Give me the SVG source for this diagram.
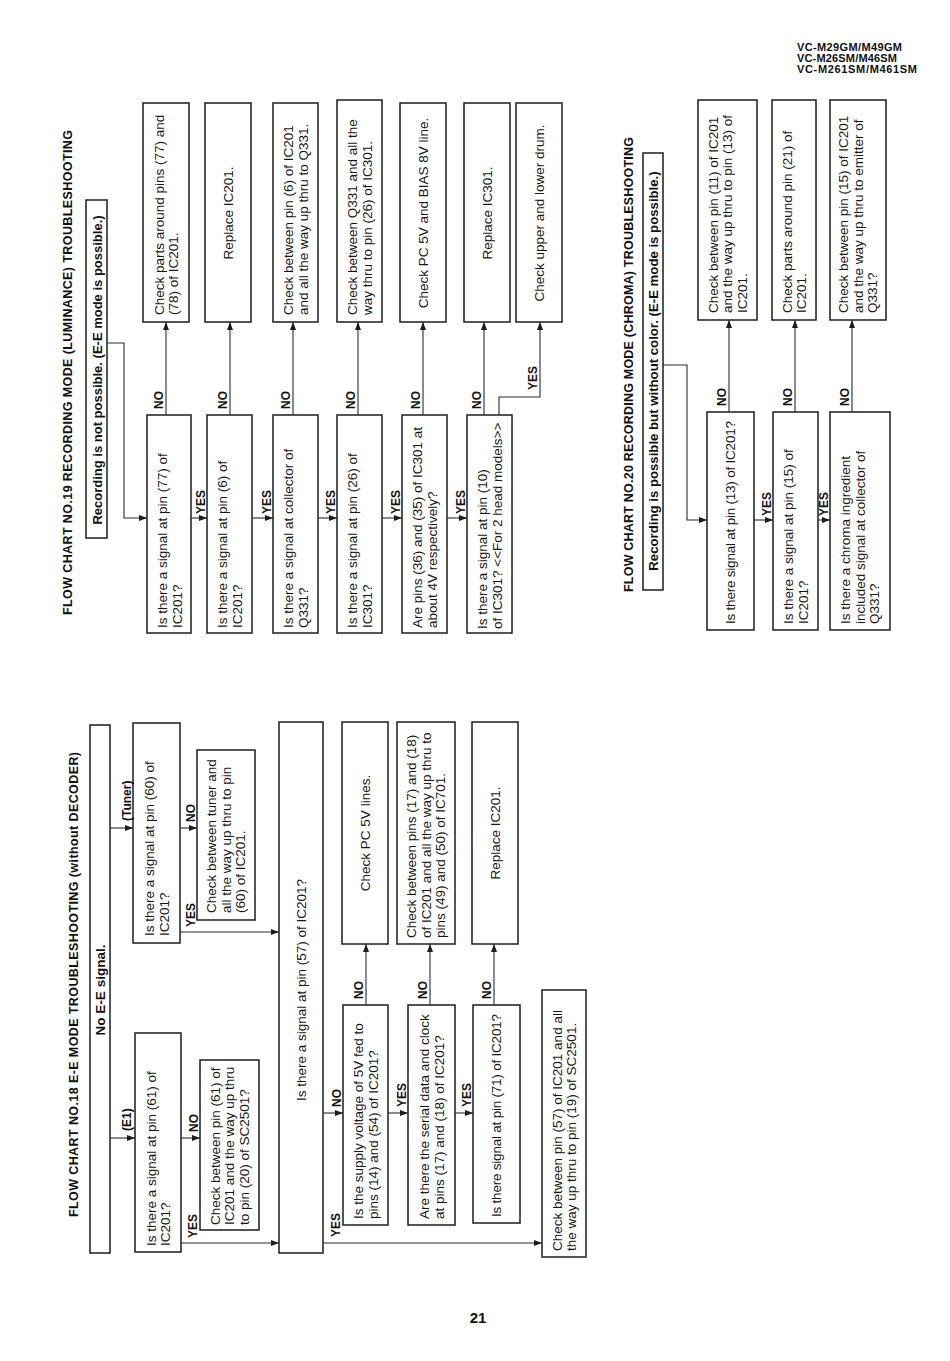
<svg xmlns="http://www.w3.org/2000/svg" width="950" height="1361" viewBox="0 0 950 1361">
<defs>
<style>
.b{fill:#fff;stroke:#1c1c1c;stroke-width:1.5}
.c{fill:none;stroke:#2a2a2a;stroke-width:1.1}
.t{font-family:"Liberation Sans",Arial,sans-serif;font-size:13.5px;fill:#161616}
.h{font-family:"Liberation Sans",Arial,sans-serif;font-weight:bold;fill:#111}
.l{font-family:"Liberation Sans",Arial,sans-serif;font-weight:bold;font-size:12px;fill:#111}
.m{text-anchor:middle}
</style>
<marker id="a" viewBox="0 0 8 6" refX="8" refY="3" markerWidth="8" markerHeight="6" markerUnits="userSpaceOnUse" orient="auto">
<path d="M0,0 L8,3 L0,6 z" fill="#1c1c1c"/>
</marker>
</defs>
<rect width="950" height="1361" fill="#fff"/>

<!-- header -->
<g id="header">
<text class="h" font-size="11" x="797" y="51" textLength="105">VC-M29GM/M49GM</text>
<text class="h" font-size="11" x="797" y="62" textLength="100">VC-M26SM/M46SM</text>
<text class="h" font-size="11" x="797" y="73" textLength="120">VC-M261SM/M461SM</text>
</g>

<!-- ================= FLOW CHART 19 ================= -->
<g id="fc19-title"><text class="h" font-size="12.5" transform="translate(72,615) rotate(-90)" textLength="485">FLOW CHART NO.19 RECORDING MODE (LUMINANCE) TROUBLESHOOTING</text></g>
<g id="fc19-start"><rect class="b" x="86" y="200" width="21" height="338"/><text class="h m" font-size="13" transform="translate(101.5,370) rotate(-90)">Recording is not possible. (E-E mode is possible.)</text></g>

<g id="fc19-d1"><rect class="b" x="147" y="415" width="44" height="218"/><text class="t" transform="translate(167,628) rotate(-90)"><tspan x="0" y="0">Is there a signal at pin (77) of</tspan><tspan x="0" y="14.5">IC201?</tspan></text></g>
<g id="fc19-d2"><rect class="b" x="207" y="415" width="45" height="218"/><text class="t" transform="translate(227,628) rotate(-90)"><tspan x="0" y="0">Is there a signal at pin (6) of</tspan><tspan x="0" y="14.5">IC201?</tspan></text></g>
<g id="fc19-d3"><rect class="b" x="273" y="415" width="45" height="218"/><text class="t" transform="translate(293,628) rotate(-90)"><tspan x="0" y="0">Is there a signal at collector of</tspan><tspan x="0" y="14.5">Q331?</tspan></text></g>
<g id="fc19-d4"><rect class="b" x="337" y="415" width="45" height="218"/><text class="t" transform="translate(357,628) rotate(-90)"><tspan x="0" y="0">Is there a signal at pin (26) of</tspan><tspan x="0" y="14.5">IC301?</tspan></text></g>
<g id="fc19-d5"><rect class="b" x="402" y="415" width="45" height="218"/><text class="t" transform="translate(422,628) rotate(-90)"><tspan x="0" y="0">Are pins (36) and (35) of IC301 at</tspan><tspan x="0" y="14.5">about 4V respectively?</tspan></text></g>
<g id="fc19-d6"><rect class="b" x="467" y="415" width="45" height="218"/><text class="t" transform="translate(487,629) rotate(-90)"><tspan x="0" y="0">Is there a signal at pin (10)</tspan><tspan x="0" y="14.5">of  IC301? &lt;&lt;For 2 head models&gt;&gt;</tspan></text></g>

<g id="fc19-r1"><rect class="b" x="143" y="103" width="46" height="219"/><text class="t" transform="translate(163.5,315) rotate(-90)"><tspan x="0" y="0">Check parts around pins (77) and</tspan><tspan x="0" y="14.5">(78) of IC201.</tspan></text></g>
<g id="fc19-r2"><rect class="b" x="205" y="103" width="46" height="219"/><text class="t m" transform="translate(232.8,213) rotate(-90)">Replace IC201.</text></g>
<g id="fc19-r3"><rect class="b" x="273" y="103" width="45" height="219"/><text class="t" transform="translate(293,315) rotate(-90)"><tspan x="0" y="0">Check between pin (6) of IC201</tspan><tspan x="0" y="14.5">and all the way up thru to Q331.</tspan></text></g>
<g id="fc19-r4"><rect class="b" x="337" y="100" width="45" height="222"/><text class="t" transform="translate(357,315) rotate(-90)"><tspan x="0" y="0">Check between Q331 and all the</tspan><tspan x="0" y="14.5">way thru to pin (26) of IC301.</tspan></text></g>
<g id="fc19-r5"><rect class="b" x="400" y="103" width="46" height="219"/><text class="t m" transform="translate(427.8,213) rotate(-90)">Check PC 5V and BIAS 8V line.</text></g>
<g id="fc19-r6"><rect class="b" x="464" y="103" width="46" height="219"/><text class="t m" transform="translate(491.8,213) rotate(-90)">Replace IC301.</text></g>
<g id="fc19-r7"><rect class="b" x="516" y="103" width="46" height="219"/><text class="t m" transform="translate(543.8,213) rotate(-90)">Check upper and lower drum.</text></g>

<g id="fc19-connectors">
<path class="c" d="M107,343 H124 V518 H147" marker-end="url(#a)"/>
<path class="c" d="M191,518 H207" marker-end="url(#a)"/>
<path class="c" d="M252,518 H273" marker-end="url(#a)"/>
<path class="c" d="M318,518 H337" marker-end="url(#a)"/>
<path class="c" d="M382,518 H402" marker-end="url(#a)"/>
<path class="c" d="M447,518 H467" marker-end="url(#a)"/>
<path class="c" d="M166,415 V322" marker-end="url(#a)"/>
<path class="c" d="M230,415 V322" marker-end="url(#a)"/>
<path class="c" d="M293,415 V322" marker-end="url(#a)"/>
<path class="c" d="M358,415 V322" marker-end="url(#a)"/>
<path class="c" d="M423,415 V322" marker-end="url(#a)"/>
<path class="c" d="M484,415 V322" marker-end="url(#a)"/>
<path class="c" d="M499,415 V397 H540 V322" marker-end="url(#a)"/>
<g class="l">
<text transform="translate(163,409) rotate(-90)">NO</text>
<text transform="translate(227,409) rotate(-90)">NO</text>
<text transform="translate(290,409) rotate(-90)">NO</text>
<text transform="translate(355,409) rotate(-90)">NO</text>
<text transform="translate(420,409) rotate(-90)">NO</text>
<text transform="translate(481,409) rotate(-90)">NO</text>
<text transform="translate(537,390) rotate(-90)">YES</text>
<text transform="translate(205,514) rotate(-90)">YES</text>
<text transform="translate(271,514) rotate(-90)">YES</text>
<text transform="translate(335,514) rotate(-90)">YES</text>
<text transform="translate(400,514) rotate(-90)">YES</text>
<text transform="translate(465,514) rotate(-90)">YES</text>
</g>
</g>

<!-- ================= FLOW CHART 20 ================= -->
<g id="fc20-title"><text class="h" font-size="12.5" transform="translate(633,592) rotate(-90)" textLength="455">FLOW CHART NO.20 RECORDING MODE (CHROMA) TROUBLESHOOTING</text></g>
<g id="fc20-start"><rect class="b" x="643" y="153" width="20" height="437"/><text class="h m" font-size="13.2" transform="translate(658,371) rotate(-90)">Recording is possible but without color. (E-E mode is possible.)</text></g>

<g id="fc20-d1"><rect class="b" x="707" y="412" width="47" height="218"/><text class="t" transform="translate(735.3,624) rotate(-90)" textLength="203">Is there signal at pin (13) of IC201?</text></g>
<g id="fc20-d2"><rect class="b" x="773" y="412" width="45" height="218"/><text class="t" transform="translate(793,624) rotate(-90)"><tspan x="0" y="0">Is there a signal at pin (15) of</tspan><tspan x="0" y="14.5">IC201?</tspan></text></g>
<g id="fc20-d3"><rect class="b" x="830" y="412" width="60" height="218"/><text class="t" transform="translate(850.3,624) rotate(-90)"><tspan x="0" y="0">Is there a chroma ingredient</tspan><tspan x="0" y="14.5">included signal at collector of</tspan><tspan x="0" y="29">Q331?</tspan></text></g>

<g id="fc20-r1"><rect class="b" x="698" y="100" width="59" height="220"/><text class="t" transform="translate(717.8,313) rotate(-90)"><tspan x="0" y="0">Check between pin (11) of IC201</tspan><tspan x="0" y="14.5">and the way up thru to pin (13) of</tspan><tspan x="0" y="29">IC201.</tspan></text></g>
<g id="fc20-r2"><rect class="b" x="772" y="100" width="44" height="220"/><text class="t" transform="translate(791.5,313) rotate(-90)"><tspan x="0" y="0">Check parts around pin (21) of</tspan><tspan x="0" y="14.5">IC201.</tspan></text></g>
<g id="fc20-r3"><rect class="b" x="830" y="100" width="56" height="220"/><text class="t" transform="translate(848.3,313) rotate(-90)"><tspan x="0" y="0">Check between pin (15) of IC201</tspan><tspan x="0" y="14.5">and the way up thru to emitter of</tspan><tspan x="0" y="29">Q331?</tspan></text></g>

<g id="fc20-connectors">
<path class="c" d="M663,365 H687 V520 H707" marker-end="url(#a)"/>
<path class="c" d="M754,520 H773" marker-end="url(#a)"/>
<path class="c" d="M818,520 H830" marker-end="url(#a)"/>
<path class="c" d="M729,412 V320" marker-end="url(#a)"/>
<path class="c" d="M795,412 V320" marker-end="url(#a)"/>
<path class="c" d="M852,412 V320" marker-end="url(#a)"/>
<g class="l">
<text transform="translate(726,406) rotate(-90)">NO</text>
<text transform="translate(792,406) rotate(-90)">NO</text>
<text transform="translate(849,406) rotate(-90)">NO</text>
<text transform="translate(771,516) rotate(-90)">YES</text>
<text transform="translate(828,516) rotate(-90)">YES</text>
</g>
</g>

<!-- ================= FLOW CHART 18 ================= -->
<g id="fc18-title"><text class="h" font-size="12.5" transform="translate(78,1217) rotate(-90)" textLength="465">FLOW CHART NO.18 E-E MODE TROUBLESHOOTING (without DECODER)</text></g>
<g id="fc18-start"><rect class="b" x="90" y="725" width="20" height="528"/><text class="h m" font-size="13.5" transform="translate(105,990) rotate(-90)">No E-E signal.</text></g>

<g id="fc18-e1"><rect class="b" x="135" y="1033" width="46" height="219"/><text class="t" transform="translate(155.5,1246) rotate(-90)"><tspan x="0" y="0">Is there a signal at pin (61) of</tspan><tspan x="0" y="14.5">IC201?</tspan></text></g>
<g id="fc18-e1r"><rect class="b" x="200" y="1060" width="59" height="170"/><text class="t" transform="translate(219.8,1225) rotate(-90)"><tspan x="0" y="0">Check between pin (61) of</tspan><tspan x="0" y="14.5">IC201 and the way up thru</tspan><tspan x="0" y="29">to pin (20) of SC2501?</tspan></text></g>
<g id="fc18-tu"><rect class="b" x="133" y="723" width="47" height="220"/><text class="t" transform="translate(154,936) rotate(-90)"><tspan x="0" y="0">Is there a signal at pin (60) of</tspan><tspan x="0" y="14.5">IC201?</tspan></text></g>
<g id="fc18-tur"><rect class="b" x="197" y="750" width="58" height="170"/><text class="t" transform="translate(216.3,913) rotate(-90)"><tspan x="0" y="0">Check between tuner and</tspan><tspan x="0" y="14.5">all the way up thru to pin</tspan><tspan x="0" y="29">(60) of IC201.</tspan></text></g>
<g id="fc18-p57"><rect class="b" x="279" y="722" width="44" height="531"/><text class="t m" transform="translate(305.8,990) rotate(-90)">Is there a signal at pin (57) of IC201?</text></g>
<g id="fc18-sup"><rect class="b" x="343" y="1005" width="45" height="220"/><text class="t" transform="translate(363,1219) rotate(-90)"><tspan x="0" y="0">Is the supply voltage of 5V fed to</tspan><tspan x="0" y="14.5">pins (14) and (54) of IC201?</tspan></text></g>
<g id="fc18-ser"><rect class="b" x="408" y="1005" width="47" height="220"/><text class="t" transform="translate(429,1219) rotate(-90)"><tspan x="0" y="0">Are there the serial data and clock</tspan><tspan x="0" y="14.5">at pins (17) and (18) of IC201?</tspan></text></g>
<g id="fc18-p71"><rect class="b" x="473" y="1005" width="47" height="218"/><text class="t" transform="translate(501.3,1217) rotate(-90)" textLength="203">Is there signal at pin (71) of IC201?</text></g>
<g id="fc18-r5v"><rect class="b" x="342" y="722" width="46" height="222"/><text class="t m" transform="translate(369.8,833) rotate(-90)">Check PC 5V lines.</text></g>
<g id="fc18-rser"><rect class="b" x="397" y="722" width="58" height="222"/><text class="t" transform="translate(416.3,938) rotate(-90)"><tspan x="0" y="0">Check between pins (17) and (18)</tspan><tspan x="0" y="14.5">of IC201 and all the way up thru to</tspan><tspan x="0" y="29">pins (49) and (50) of IC701.</tspan></text></g>
<g id="fc18-rrep"><rect class="b" x="472" y="722" width="46" height="222"/><text class="t m" transform="translate(499.8,833) rotate(-90)">Replace IC201.</text></g>
<g id="fc18-fin"><rect class="b" x="542" y="990" width="44" height="267"/><text class="t" transform="translate(561.5,1251) rotate(-90)"><tspan x="0" y="0">Check between pin (57) of IC201 and all</tspan><tspan x="0" y="14.5">the way up thru to pin (19) of SC2501.</tspan></text></g>

<g id="fc18-connectors">
<path class="c" d="M110,1138 H135" marker-end="url(#a)"/>
<path class="c" d="M110,828 H133" marker-end="url(#a)"/>
<path class="c" d="M181,1138 H200" marker-end="url(#a)"/>
<path class="c" d="M180,828 H197" marker-end="url(#a)"/>
<path class="c" d="M181,1243 H279" marker-end="url(#a)"/>
<path class="c" d="M180,932 H279" marker-end="url(#a)"/>
<path class="c" d="M323,1113 H343" marker-end="url(#a)"/>
<path class="c" d="M323,1243 H542" marker-end="url(#a)"/>
<path class="c" d="M388,1113 H408" marker-end="url(#a)"/>
<path class="c" d="M455,1113 H473" marker-end="url(#a)"/>
<path class="c" d="M366,1005 V944" marker-end="url(#a)"/>
<path class="c" d="M430,1005 V944" marker-end="url(#a)"/>
<path class="c" d="M494,1005 V944" marker-end="url(#a)"/>
<g class="l">
<text transform="translate(131,1131) rotate(-90)">(E1)</text>
<text transform="translate(131,821) rotate(-90)">(Tuner)</text>
<text transform="translate(198,1132) rotate(-90)">NO</text>
<text transform="translate(195,822) rotate(-90)">NO</text>
<text transform="translate(197,1238) rotate(-90)">YES</text>
<text transform="translate(195,927) rotate(-90)">YES</text>
<text transform="translate(341,1107) rotate(-90)">NO</text>
<text transform="translate(340,1237) rotate(-90)">YES</text>
<text transform="translate(406,1107) rotate(-90)">YES</text>
<text transform="translate(471,1107) rotate(-90)">YES</text>
<text transform="translate(363,999) rotate(-90)">NO</text>
<text transform="translate(427,999) rotate(-90)">NO</text>
<text transform="translate(491,999) rotate(-90)">NO</text>
</g>
</g>

<g id="page-number"><text class="h m" font-size="15" x="478" y="1323">21</text></g>
</svg>
